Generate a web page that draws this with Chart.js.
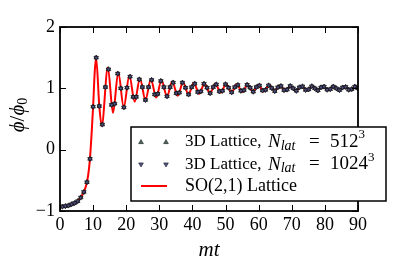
<!DOCTYPE html>
<html>
<head>
<meta charset="utf-8">
<script src="https://cdn.jsdelivr.net/npm/chart.js@4.4.1/dist/chart.umd.min.js"></script>
<style>
  html, body { margin: 0; padding: 0; background: #ffffff; }
  canvas { display: block; }
</style>
</head>
<body>
<canvas id="phiChart" width="399" height="268"></canvas>
<script>
const phiChart = document.getElementById('phiChart').getContext('2d');

const xTicks = [0, 10, 20, 30, 40, 50, 60, 70, 80, 90];
const yTicks = [-1, 0, 1, 2];

// SO(2,1) lattice curve (red line)
const soX = [
    0, 1, 2, 3, 4, 5, 6, 7, 7.5, 8, 8.5, 9, 9.5, 10, 10.5, 10.9,
    11.86, 12.6, 14.45, 16.0, 17.6, 19.25, 20.95, 22.55, 24.15, 25.8,
    27.45, 29.05, 30.65, 32.3, 33.9, 35.55, 37.15, 38.8, 40.4, 42.05,
    43.65, 45.3, 46.9, 48.55, 50.15, 51.8, 53.4, 55.05, 56.65, 58.3,
    59.9, 61.55, 63.15, 64.8, 66.4, 68.05, 69.65, 71.3, 72.9, 74.55,
    76.15, 77.8, 79.4, 81.05, 82.65, 84.3, 85.9, 87.55, 89.15, 90
];
const soY = [
    -0.93, -0.925, -0.915, -0.90, -0.88, -0.85, -0.80, -0.71, -0.65, -0.56, -0.42, -0.18, 0.22, 0.70, 1.28, 1.50,
    0.72, 0.39, 1.34, 0.60, 1.26, 0.69, 1.21, 0.78, 1.16, 0.81,
    1.15, 0.85, 1.13, 0.87, 1.11, 0.88, 1.10, 0.90, 1.09, 0.91,
    1.08, 0.92, 1.075, 0.93, 1.07, 0.935, 1.065, 0.94, 1.06, 0.945,
    1.055, 0.95, 1.05, 0.955, 1.045, 0.96, 1.04, 0.96, 1.04, 0.965,
    1.035, 0.965, 1.035, 0.97, 1.03, 0.97, 1.03, 0.97, 1.03, 1.0
];

// 3D lattice samples
const latX = [
    0.70, 1.63, 2.56, 3.49, 4.42, 5.35, 6.28, 7.21, 8.14, 9.07,
    10.00, 10.93, 11.86, 12.79, 13.72, 14.65, 15.58, 16.51, 17.44, 18.37,
    19.30, 20.23, 21.16, 22.09, 23.02, 23.95, 24.88, 25.81, 26.74, 27.67,
    28.60, 29.53, 30.46, 31.39, 32.32, 33.25, 34.18, 35.11, 36.04, 36.97,
    37.90, 38.83, 39.76, 40.69, 41.62, 42.55, 43.48, 44.41, 45.34, 46.27,
    47.20, 48.13, 49.06, 49.99, 50.92, 51.85, 52.78, 53.71, 54.64, 55.57,
    56.50, 57.43, 58.36, 59.29, 60.22, 61.15, 62.08, 63.01, 63.94, 64.87,
    65.80, 66.73, 67.66, 68.59, 69.52, 70.45, 71.38, 72.31, 73.24, 74.17,
    75.10, 76.03, 76.96, 77.89, 78.82, 79.75, 80.68, 81.61, 82.54, 83.47,
    84.40, 85.33, 86.26, 87.19, 88.12, 89.05, 89.98
];
const lat512 = [
    -0.928, -0.92, -0.91, -0.89, -0.87, -0.84, -0.78, -0.69, -0.53, -0.15,
    0.70, 1.50, 0.71, 0.41, 1.02, 1.31, 0.73, 0.75, 1.24, 1.00,
    0.69, 1.01, 1.19, 0.86, 0.86, 1.145, 1.02, 0.81, 1.02, 1.137,
    0.90, 0.91, 1.12, 1.02, 0.87, 1.02, 1.094, 0.92, 0.93, 1.093,
    1.01, 0.90, 1.02, 1.076, 0.94, 0.95, 1.075, 1.01, 0.92, 1.02,
    1.064, 0.95, 0.96, 1.067, 1.01, 0.935, 1.02, 1.054, 0.96, 0.97,
    1.058, 1.01, 0.945, 1.02, 1.046, 0.965, 0.975, 1.048, 1.005, 0.955,
    1.017, 1.037, 0.97, 0.98, 1.038, 1.00, 0.96, 1.016, 1.032, 0.974,
    0.983, 1.034, 1.00, 0.966, 1.015, 1.028, 0.978, 0.986, 1.029, 1.00,
    0.971, 1.013, 1.023, 0.977, 0.987, 1.029, 1.00
];
const lat1024 = [
    -0.928, -0.92, -0.91, -0.89, -0.87, -0.84, -0.78, -0.69, -0.53, -0.15,
    0.70, 1.50, 0.71, 0.41, 1.02, 1.31, 0.73, 0.75, 1.24, 1.00,
    0.69, 1.01, 1.19, 0.86, 0.86, 1.145, 1.02, 0.81, 1.02, 1.137,
    0.90, 0.91, 1.12, 1.02, 0.87, 1.02, 1.094, 0.92, 0.93, 1.093,
    1.01, 0.90, 1.02, 1.076, 0.94, 0.95, 1.075, 1.01, 0.92, 1.02,
    1.064, 0.95, 0.96, 1.067, 1.01, 0.935, 1.02, 1.054, 0.96, 0.97,
    1.058, 1.01, 0.945, 1.02, 1.046, 0.965, 0.975, 1.048, 1.005, 0.955,
    1.017, 1.037, 0.97, 0.98, 1.038, 1.00, 0.96, 1.016, 1.032, 0.974,
    0.983, 1.034, 1.00, 0.966, 1.015, 1.028, 0.978, 0.986, 1.029, 1.00,
    0.971, 1.013, 1.023, 0.977, 0.987, 1.029, 1.00
];

const SERIF = '"Liberation Serif", "DejaVu Serif", serif';
const upColor = '#4a6656';
const downColor = '#50508a';
const lineColor = '#ff0000';

const toPoints = (xs, ys) => xs.map((x, i) => ({ x: x, y: ys[i] }));

// draws text pieces one after another; 'at' pins a piece to an offset from x
function drawRuns(ctx, x, y, runs) {
    let cx = x;
    runs.forEach(r => {
        if (r.at !== undefined) cx = x + r.at;
        ctx.font = (r.italic ? 'italic ' : '') + r.size + 'px ' + SERIF;
        ctx.fillText(r.text, cx, y + (r.dy || 0));
        cx += ctx.measureText(r.text).width + (r.gap || 0);
    });
    return cx - x;
}

function runsWidth(ctx, runs) {
    let w = 0;
    runs.forEach(r => {
        ctx.font = (r.italic ? 'italic ' : '') + r.size + 'px ' + SERIF;
        w += ctx.measureText(r.text).width;
    });
    return w;
}

function drawTriangle(ctx, x, y, r, down, fill) {
    ctx.save();
    ctx.translate(x, y);
    if (down) ctx.rotate(Math.PI);
    ctx.beginPath();
    ctx.moveTo(0, -r);
    ctx.lineTo(r * 0.95, r * 0.65);
    ctx.lineTo(-r * 0.95, r * 0.65);
    ctx.closePath();
    ctx.fillStyle = fill;
    ctx.fill();
    ctx.strokeStyle = '#222222';
    ctx.lineWidth = 0.6;
    ctx.stroke();
    ctx.restore();
}

function latticeLabel(size) {
    return [
        { text: '3D Lattice,', size: 17 },
        { text: 'N', italic: true, size: 19, at: 83 },
        { text: 'lat', italic: true, size: 14, dy: 4 },
        { text: '=', size: 19, at: 124 },
        { text: size, size: 19, at: 145 },
        { text: '3', size: 13, dy: -7 }
    ];
}

const frameAndTicks = {
    id: 'frameAndTicks',
    afterDatasetsDraw(chart) {
        const { ctx, chartArea, scales } = chart;
        const tl = 6;
        ctx.save();
        ctx.strokeStyle = '#000000';
        ctx.lineWidth = 1;
        ctx.beginPath();
        xTicks.forEach(v => {
            const px = Math.round(scales.x.getPixelForValue(v)) + 0.5;
            ctx.moveTo(px, chartArea.bottom);
            ctx.lineTo(px, chartArea.bottom - tl);
            ctx.moveTo(px, chartArea.top);
            ctx.lineTo(px, chartArea.top + tl);
        });
        yTicks.forEach(v => {
            const py = Math.round(scales.y.getPixelForValue(v)) + 0.5;
            ctx.moveTo(chartArea.left, py);
            ctx.lineTo(chartArea.left + tl, py);
            ctx.moveTo(chartArea.right, py);
            ctx.lineTo(chartArea.right - tl, py);
        });
        ctx.stroke();
        ctx.lineWidth = 1.8;
        ctx.strokeRect(chartArea.left, chartArea.top, chartArea.right - chartArea.left, chartArea.bottom - chartArea.top);
        ctx.restore();
    },
    afterDraw(chart) {
        const { ctx, chartArea } = chart;
        ctx.save();
        ctx.fillStyle = '#000000';
        ctx.textBaseline = 'middle';

        // axis titles
        const xTitle = [{ text: 'mt', italic: true, size: 21 }];
        const xw = runsWidth(ctx, xTitle);
        drawRuns(ctx, (chartArea.left + chartArea.right) / 2 - xw / 2, chartArea.bottom + 39, xTitle);

        const yTitle = [
            { text: 'ϕ', italic: true, size: 21 },
            { text: '/', size: 21 },
            { text: 'ϕ', italic: true, size: 21 },
            { text: '0', size: 14, dy: 5 }
        ];
        const yw = runsWidth(ctx, yTitle);
        ctx.save();
        ctx.translate(chartArea.left - 42, (chartArea.top + chartArea.bottom) / 2 - 4);
        ctx.rotate(-Math.PI / 2);
        drawRuns(ctx, -yw / 2, 0, yTitle);
        ctx.restore();

        // legend box
        const lx = chartArea.left + 71;
        const ly = chartArea.bottom - 84;
        const lw = 255;
        const lh = 74;
        ctx.fillStyle = '#ffffff';
        ctx.fillRect(lx, ly, lw, lh);
        ctx.strokeStyle = '#000000';
        ctx.lineWidth = 1.5;
        ctx.strokeRect(lx, ly, lw, lh);

        const s1 = lx + 10, s2 = lx + 35, tx = lx + 54;
        const r1 = ly + 15, r2 = ly + 37.5, r3 = ly + 59;
        drawTriangle(ctx, s1, r1, 2.5, false, upColor);
        drawTriangle(ctx, s2, r1, 2.5, false, upColor);
        drawTriangle(ctx, s1, r2, 2.5, true, downColor);
        drawTriangle(ctx, s2, r2, 2.5, true, downColor);
        ctx.strokeStyle = lineColor;
        ctx.lineWidth = 2;
        ctx.beginPath();
        ctx.moveTo(s1, r3);
        ctx.lineTo(s2 + 1, r3);
        ctx.stroke();

        ctx.fillStyle = '#000000';
        drawRuns(ctx, tx, r1, latticeLabel('512'));
        drawRuns(ctx, tx, r2, latticeLabel('1024'));
        drawRuns(ctx, tx, r3, [{ text: 'SO(2,1) Lattice', size: 18 }]);
        ctx.restore();
    }
};

new Chart(phiChart, {
    type: 'scatter',
    data: {
        datasets: [{
            label: '3D Lattice, N_lat = 512^3',
            data: toPoints(latX, lat512),
            pointStyle: 'triangle',
            pointRadius: 2.6,
            backgroundColor: upColor,
            borderColor: '#111111',
            borderWidth: 0.8,
            order: 2
        },
        {
            label: '3D Lattice, N_lat = 1024^3',
            data: toPoints(latX, lat1024),
            pointStyle: 'triangle',
            rotation: 180,
            pointRadius: 2.6,
            backgroundColor: downColor,
            borderColor: '#111111',
            borderWidth: 0.8,
            order: 1
        },
        {
            type: 'line',
            label: 'SO(2,1) Lattice',
            data: toPoints(soX, soY),
            borderColor: lineColor,
            borderWidth: 2,
            pointRadius: 0,
            fill: false,
            cubicInterpolationMode: 'monotone',
            order: 3
        }]
    },
    plugins: [frameAndTicks],
    options: {
        responsive: false,
        animation: false,
        devicePixelRatio: 1,
        layout: {
            padding: { top: 27, right: 41, left: 0, bottom: 0 }
        },
        plugins: {
            legend: { display: false },
            tooltip: { enabled: false }
        },
        scales: {
            x: {
                type: 'linear',
                min: 0,
                max: 90,
                afterFit: (scale) => { scale.height = 57; },
                afterBuildTicks: (scale) => { scale.ticks = xTicks.map(v => ({ value: v })); },
                grid: { display: false, drawTicks: false },
                border: { display: false },
                ticks: {
                    color: '#000000',
                    padding: 3,
                    maxRotation: 0,
                    font: { family: SERIF, size: 18 }
                }
            },
            y: {
                min: -1,
                max: 2,
                afterFit: (scale) => { scale.width = 60; },
                afterBuildTicks: (scale) => { scale.ticks = yTicks.map(v => ({ value: v })); },
                grid: { display: false, drawTicks: false },
                border: { display: false },
                ticks: {
                    color: '#000000',
                    padding: 5,
                    font: { family: SERIF, size: 18 },
                    callback: function(value) {
                        return value < 0 ? '\u2212' + Math.abs(value) : String(value);
                    }
                }
            }
        }
    }
});
</script>
</body>
</html>
